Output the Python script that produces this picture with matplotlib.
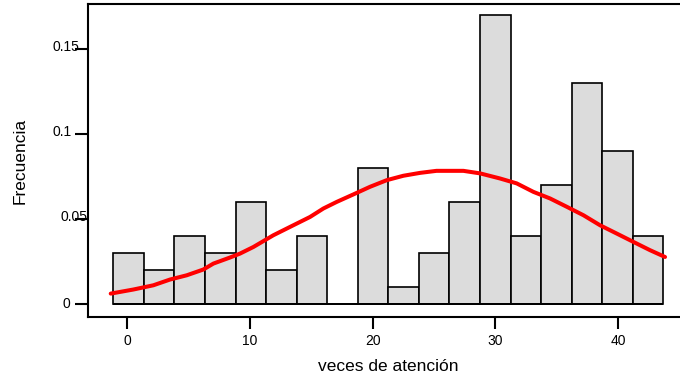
import numpy as np
import matplotlib.pyplot as plt
from matplotlib.transforms import ScaledTranslation

plt.rcParams['font.family'] = ['Liberation Sans', 'DejaVu Sans']

# relative frequencies per bin
freq = [0.03, 0.02, 0.04, 0.03, 0.06, 0.02, 0.04, 0.0, 0.08,
        0.01, 0.03, 0.06, 0.17, 0.04, 0.07, 0.13, 0.09, 0.04]
bin_edges = np.linspace(-1.12, 43.67, len(freq) + 1)

# fitted density curve
curve_x = [-1.33, 0.51, 2.14, 3.50, 4.86, 6.21, 7.03, 8.39, 9.20, 10.29,
           11.91, 13.54, 14.90, 15.99, 17.08, 18.43, 19.79, 21.15, 22.50,
           23.86, 25.20, 27.39, 28.75, 30.37, 31.73, 33.09, 34.45, 35.81,
           37.17, 38.52, 39.88, 41.23, 42.59, 43.81]
curve_y = [0.0059, 0.0083, 0.0108, 0.0142, 0.0167, 0.0201, 0.0236, 0.0272,
           0.0295, 0.0334, 0.0403, 0.0462, 0.0511, 0.0561, 0.0600, 0.0644,
           0.0689, 0.0728, 0.0754, 0.0771, 0.0783, 0.0783, 0.0768, 0.0738,
           0.0709, 0.0659, 0.0620, 0.0571, 0.0521, 0.0462, 0.0413, 0.0364,
           0.0315, 0.0275]

xticks = [0, 10, 20, 30, 40]
yticks = [0, 0.05, 0.1, 0.15]
yticklabels = ['0', '0.05', '0.1', '0.15']

fig = plt.figure(figsize=(6.8, 3.77), dpi=100)
ax = fig.add_axes([88 / 680, 60 / 377, 600 / 680, 313 / 377])

widths = np.diff(bin_edges)
ax.bar(bin_edges[:-1], freq, width=widths, align='edge',
       color='#dcdcdc', edgecolor='black', linewidth=1.2)
# baseline under the bars so empty bins still show their edge
ax.hlines(0, bin_edges[0], bin_edges[-1], color='black', linewidth=1.4,
          zorder=1.5)
ax.plot(curve_x, curve_y, color='#ff0000', linewidth=2.9,
        solid_capstyle='round', zorder=3)

ax.set_xlim(-3.18, 45.68)
ax.set_ylim(-0.0079, 0.1767)

ax.set_xticks(xticks)
ax.set_yticks(yticks)
ax.set_yticklabels(yticklabels)
ax.tick_params(axis='x', length=8.4, width=1.5, pad=3.6, labelsize=10)
ax.tick_params(axis='y', length=9.4, width=1.5, pad=5.8, labelsize=10)

# small per-label nudges (pixels) for the y tick labels
nudge = [(-0.5, 1), (7.5, 3), (-4.5, 3.5), (-0.5, 4)]
for lab, (dx, dy) in zip(ax.get_yticklabels(), nudge):
    lab.set_horizontalalignment('center')
    lab.set_transform(lab.get_transform() +
                      ScaledTranslation(dx / 100, dy / 100, fig.dpi_scale_trans))

for side in ['left', 'bottom', 'top']:
    ax.spines[side].set_linewidth(1.5)
ax.spines['right'].set_visible(False)

ax.set_xlabel('veces de atención', fontsize=12.5)
ax.xaxis.set_label_coords(0.5, -0.135)
ax.set_ylabel('Frecuencia', fontsize=12.5)
ax.yaxis.set_label_coords(-0.1, 0.5)

fig.savefig('out.png', dpi=100)
